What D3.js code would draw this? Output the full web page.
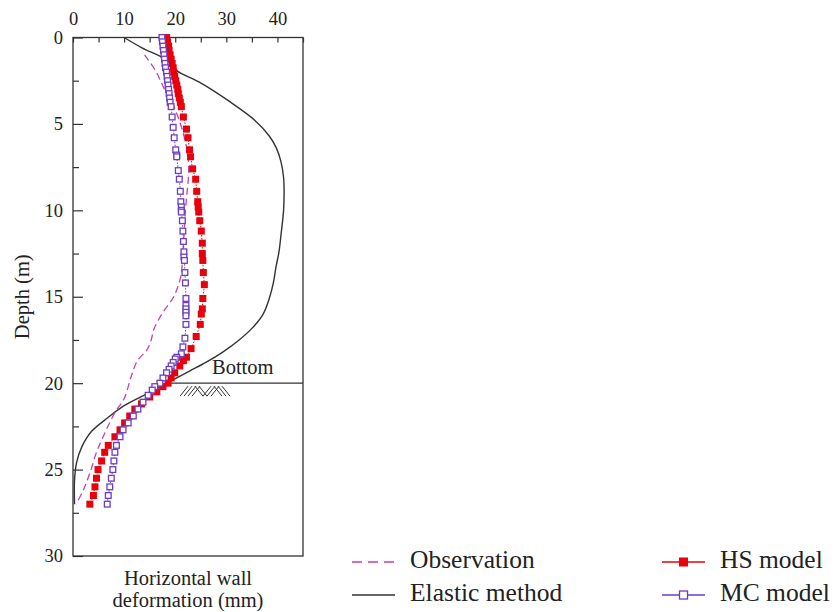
<!DOCTYPE html>
<html>
<head>
<meta charset="utf-8">
<script src="https://cdn.jsdelivr.net/npm/d3@7/dist/d3.min.js"></script>
<style>
  html, body { margin: 0; padding: 0; background: #fff; }
  svg { display: block; }
  text { font-family: "Liberation Serif", "DejaVu Serif", serif; fill: #222; }
</style>
</head>
<body>
<svg id="chart" width="836" height="612"></svg>
<script>
// Wall deformation profiles (depth in m, horizontal deformation in mm)
const obsDepth = [1.0, 2.0, 3.0, 3.9, 4.9, 5.8, 6.8, 8.0, 9.0, 10.0, 11.0, 12.0, 13.0, 13.8, 14.6, 15.2, 15.9, 16.9, 17.5, 18.1, 18.7, 19.6, 20.9, 21.7, 22.9, 24.0, 25.2, 26.2, 27.0];
const obsDef   = [14.0, 16.3, 17.9, 19.6, 20.9, 21.8, 22.5, 22.6, 22.3, 22.0, 21.8, 21.6, 21.4, 21.1, 20.3, 19.3, 17.6, 15.8, 15.3, 14.4, 12.6, 11.4, 10.0, 8.2, 6.2, 4.6, 3.3, 2.0, 0.6];

const elasticDepth = [0, 0.6, 1.3, 1.9, 2.6, 3.7, 4.8, 5.7, 6.4, 7.2, 8.1, 8.9, 10.0, 11.4, 12.4, 13.3, 14.2, 15.1, 16.0, 16.8, 17.5, 18.2, 18.8, 19.3, 19.9, 20.6, 21.3, 22.0, 22.8, 23.7, 24.6, 25.6, 27.0];
const elasticDef   = [10.0, 13.5, 18.3, 20.2, 24.8, 30.6, 35.6, 38.4, 39.8, 40.7, 41.2, 41.3, 41.2, 40.7, 40.3, 39.7, 39.2, 38.4, 37.2, 35.1, 32.5, 29.3, 26.0, 22.8, 19.0, 14.5, 10.0, 6.8, 3.6, 1.7, 0.7, 0.3, 0.3];

const hsDepth = [0, 0.25, 0.5, 0.75, 1, 1.25, 1.5, 1.75, 2, 2.25, 2.5, 2.75, 3, 3.25, 3.5, 3.75, 4, 4.6, 5.3, 5.8, 6.5, 6.9, 7.6, 8.2, 8.9, 9.5, 9.8, 10.1, 10.6, 11.2, 11.9, 12.5, 12.9, 13.6, 14.3, 15.1, 15.7, 16.0, 16.6, 17.3, 18.0, 18.5, 18.7, 19.0, 19.4, 19.7, 20.0, 20.2, 20.5, 20.8, 21.2, 21.5, 21.9, 22.3, 22.7, 23.1, 23.6, 24.0, 24.5, 25.0, 25.5, 26.0, 26.5, 27.0];
const hsDef   = [18.3, 18.5, 18.7, 18.8, 19.0, 19.2, 19.4, 19.6, 19.7, 19.9, 20.1, 20.3, 20.5, 20.6, 20.8, 21.0, 21.2, 21.6, 22.2, 22.5, 22.8, 23.0, 23.4, 24.0, 24.2, 24.4, 24.5, 24.6, 24.8, 25.1, 25.3, 25.3, 25.4, 25.5, 25.7, 25.4, 25.3, 25.1, 24.9, 24.1, 23.1, 22.2, 21.6, 20.9, 19.9, 19.2, 18.6, 17.6, 16.4, 15.0, 13.4, 12.1, 11.1, 10.1, 9.2, 8.2, 6.9, 6.2, 5.6, 4.9, 4.6, 4.3, 4.0, 3.3];

const mcDepth = [0, 0.25, 0.5, 0.75, 1, 1.25, 1.5, 1.75, 2, 2.25, 2.5, 2.75, 3, 3.25, 3.5, 3.75, 4, 4.6, 5.2, 5.8, 6.5, 6.8, 6.9, 7.7, 8.2, 8.9, 9.5, 9.8, 10.0, 10.1, 10.6, 11.2, 11.8, 12.4, 12.7, 12.9, 13.6, 14.2, 15.1, 15.5, 15.7, 15.9, 16.1, 16.6, 17.4, 17.9, 18.3, 18.5, 18.6, 18.8, 19.0, 19.2, 19.4, 19.7, 20.0, 20.2, 20.4, 20.7, 21.1, 21.5, 21.9, 22.3, 22.7, 23.1, 23.6, 24.0, 24.5, 25.0, 25.5, 26.0, 26.5, 27.0];
const mcDef   = [17.4, 17.5, 17.6, 17.7, 17.8, 17.9, 18.0, 18.1, 18.3, 18.4, 18.5, 18.6, 18.7, 18.8, 18.9, 19.0, 19.2, 19.4, 19.6, 19.8, 20.1, 20.3, 20.3, 20.6, 20.8, 21.0, 21.1, 21.2, 21.2, 21.2, 21.4, 21.5, 21.6, 21.7, 21.7, 21.8, 21.9, 22.0, 22.1, 22.1, 22.1, 22.1, 22.1, 22.1, 21.9, 21.5, 21.2, 20.3, 20.0, 19.6, 19.2, 18.8, 18.3, 17.6, 17.0, 16.0, 15.5, 14.7, 13.7, 12.7, 11.8, 10.8, 9.8, 9.2, 8.5, 8.2, 8.0, 7.8, 7.5, 7.2, 6.9, 6.7];

const xTickValues = [0, 5, 10, 15, 20, 25, 30, 35, 40, 45];
const xTickLabels = ["0", "", "10", "", "20", "", "30", "", "40", ""];
const yTickValues = [0, 2.5, 5, 7.5, 10, 12.5, 15, 17.5, 20, 22.5, 25, 27.5, 30];
const yTickLabels = ["0", "", "5", "", "10", "", "15", "", "20", "", "25", "", "30"];

const excavationBottom = 20;   // m
const bottomStartDef = 19;     // mm, where the base line starts

const legendItems = [
  { key: "obs", label: "Observation" },
  { key: "elastic", label: "Elastic method" },
  { key: "hs", label: "HS model" },
  { key: "mc", label: "MC model" }
];

const colors = { obs: "#c840b4", elastic: "#333333", hs: "#e8000c", mc: "#6a3cc8" };

const svg = d3.select("#chart");
const plot = { left: 73, right: 303, top: 37.5, bottom: 556 };

const x = d3.scaleLinear().domain([0, 45]).range([plot.left, plot.right]);
const y = d3.scaleLinear().domain([0, 30]).range([plot.top, plot.bottom]);

const zip = (ds, vs) => ds.map((d, i) => ({ depth: d, def: vs[i] }));
const obs = zip(obsDepth, obsDef);
const elastic = zip(elasticDepth, elasticDef);
const hs = zip(hsDepth, hsDef);
const mc = zip(mcDepth, mcDef);

const tickFont = 18.5;

// Axes: deformation on top, depth on the left, ticks pointing inward
const xAxis = d3.axisTop(x).tickValues(xTickValues)
  .tickFormat((d, i) => xTickLabels[i]).tickSizeInner(-5).tickSizeOuter(0).tickPadding(13);
const gx = svg.append("g").attr("transform", `translate(0,${plot.top})`).call(xAxis);
gx.select(".domain").remove();
gx.selectAll(".tick line").attr("stroke", "#333").attr("stroke-width", 1.2);
gx.selectAll(".tick text").attr("font-size", tickFont).attr("fill", "#222")
  .attr("font-family", "Liberation Serif, serif");

const yAxis = d3.axisLeft(y).tickValues(yTickValues)
  .tickFormat((d, i) => yTickLabels[i]).tickSizeInner(0).tickSizeOuter(0).tickPadding(10);
const gy = svg.append("g").attr("transform", `translate(${plot.left},0)`).call(yAxis);
gy.select(".domain").remove();
gy.selectAll(".tick line")
  .attr("x1", 0)
  .attr("x2", (d, i) => yTickLabels[i] ? 10 : 6)
  .attr("stroke", "#333").attr("stroke-width", 1.2);
gy.selectAll(".tick text").attr("font-size", tickFont).attr("fill", "#222")
  .attr("font-family", "Liberation Serif, serif");

// Frame
svg.append("rect")
  .attr("x", plot.left).attr("y", plot.top)
  .attr("width", plot.right - plot.left).attr("height", plot.bottom - plot.top)
  .attr("fill", "none").attr("stroke", "#333").attr("stroke-width", 1.3);

// Axis titles
svg.append("text")
  .attr("transform", `translate(29,${(plot.top + plot.bottom) / 2}) rotate(-90)`)
  .attr("text-anchor", "middle").attr("font-size", 20.5).text("Depth (m)");
const xt = svg.append("text").attr("text-anchor", "middle").attr("font-size", 20.5);
xt.append("tspan").attr("x", (plot.left + plot.right) / 2).attr("y", 585).text("Horizontal wall");
xt.append("tspan").attr("x", (plot.left + plot.right) / 2).attr("y", 607).text("deformation (mm)");

// Excavation bottom marker
svg.append("line")
  .attr("x1", x(bottomStartDef)).attr("x2", plot.right)
  .attr("y1", y(excavationBottom)).attr("y2", y(excavationBottom))
  .attr("stroke", "#333").attr("stroke-width", 1.2);
svg.append("text").attr("x", 212).attr("y", 374).attr("font-size", 20.5).text("Bottom");

const hatchY0 = y(excavationBottom) + 3;
const hatch = svg.append("g").attr("stroke", "#333").attr("stroke-width", 1);
const hatchMarks = [
  [180, 1], [184, 1], [188, 1], [192, 1],
  [195, -1], [199, -1],
  [203, 1], [207, 1], [211, 1],
  [214, -1], [218, -1], [222, -1]
];
hatchMarks.forEach(([hx, dir]) => {
  hatch.append("line")
    .attr("x1", dir > 0 ? hx : hx + 8).attr("y1", hatchY0 + 10)
    .attr("x2", dir > 0 ? hx + 8 : hx).attr("y2", hatchY0);
});

// Curves
const line = d3.line().x(d => x(d.def)).y(d => y(d.depth)).curve(d3.curveCatmullRom);

svg.append("path").datum(elastic)
  .attr("d", line).attr("fill", "none")
  .attr("stroke", colors.elastic).attr("stroke-width", 1.4);

svg.append("path").datum(obs)
  .attr("d", line).attr("fill", "none")
  .attr("stroke", colors.obs).attr("stroke-width", 1.3).attr("stroke-dasharray", "7,4");

const straight = d3.line().x(d => x(d.def)).y(d => y(d.depth));
const sq = 7;

svg.append("path").datum(hs)
  .attr("d", straight).attr("fill", "none")
  .attr("stroke", colors.hs).attr("stroke-width", 1).attr("stroke-dasharray", "1.5,1.5");
svg.append("g").selectAll("rect").data(hs).join("rect")
  .attr("x", d => x(d.def) - sq / 2).attr("y", d => y(d.depth) - sq / 2)
  .attr("width", sq).attr("height", sq).attr("fill", colors.hs);

svg.append("path").datum(mc)
  .attr("d", straight).attr("fill", "none")
  .attr("stroke", colors.mc).attr("stroke-width", 1).attr("stroke-dasharray", "1.5,1.5");
svg.append("g").selectAll("rect").data(mc).join("rect")
  .attr("x", d => x(d.def) - (sq - 1.3) / 2).attr("y", d => y(d.depth) - (sq - 1.3) / 2)
  .attr("width", sq - 1.3).attr("height", sq - 1.3)
  .attr("fill", "#fff").attr("stroke", colors.mc).attr("stroke-width", 1.3);

// Legend
const legendPos = {
  obs: [352, 562], elastic: [352, 595], hs: [662, 562], mc: [662, 595]
};
const legendFont = 25.5;
legendItems.forEach(item => {
  const [lx, ly] = legendPos[item.key];
  const g = svg.append("g");
  const seg = g.append("line").attr("x1", lx).attr("x2", lx + 43).attr("y1", ly).attr("y2", ly)
    .attr("stroke", colors[item.key]).attr("stroke-width", 1.4);
  if (item.key === "obs") seg.attr("stroke-dasharray", "10,6");
  if (item.key === "hs") {
    g.append("rect").attr("x", lx + 21.5 - 4.5).attr("y", ly - 4.5).attr("width", 9).attr("height", 9)
      .attr("fill", colors.hs);
  }
  if (item.key === "mc") {
    g.append("rect").attr("x", lx + 21.5 - 4).attr("y", ly - 4).attr("width", 8).attr("height", 8)
      .attr("fill", "#fff").attr("stroke", colors.mc).attr("stroke-width", 1.3);
  }
  g.append("text").attr("x", lx + 58).attr("y", ly + 6).attr("font-size", legendFont).text(item.label);
});
</script>
</body>
</html>
